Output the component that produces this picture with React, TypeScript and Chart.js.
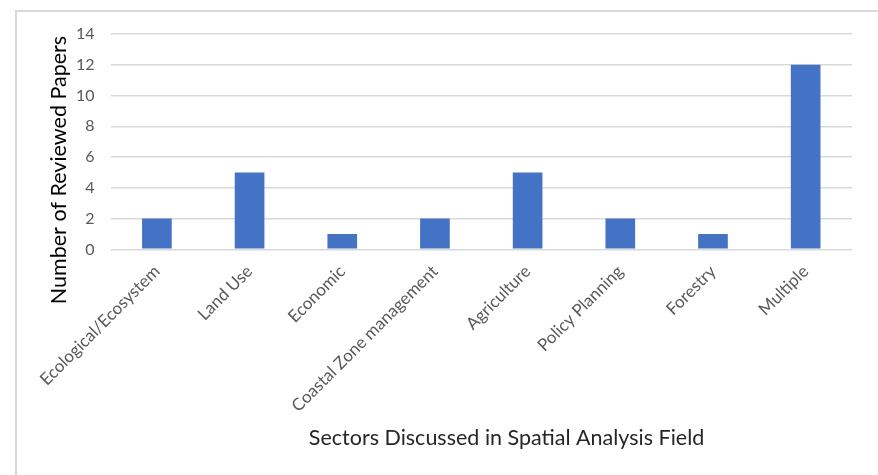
import React, { useEffect, useRef } from "react";
import { Chart, registerables } from "chart.js";

Chart.register(...registerables);

const sectors = [
  "Ecological/Ecosystem",
  "Land Use",
  "Economic",
  "Coastal Zone management",
  "Agriculture",
  "Policy Planning",
  "Forestry",
  "Multiple",
];
const paperCounts = [2, 5, 1, 2, 5, 2, 1, 12];
const yMin = 0;
const yMax = 14;
const yStep = 2;

const xTitle = "Sectors Discussed in Spatial Analysis Field";
const yTitle = "Number of Reviewed Papers";

const FONT = "Lato, 'Open Sans', sans-serif";

// Axis titles are placed like an office chart: the y title sits a bit low, the x title a bit right.
const axisTitles = {
  id: "axisTitles",
  afterDraw(chart: Chart) {
    const { ctx, chartArea } = chart;
    ctx.save();
    ctx.textAlign = "center";
    ctx.textBaseline = "middle";

    ctx.font = `21.5px ${FONT}`;
    ctx.fillStyle = "#262626";
    ctx.fillText(xTitle, chartArea.left + 396, 438);

    ctx.font = `21.5px ${FONT}`;
    ctx.fillStyle = "#000000";
    ctx.translate(59, chartArea.top + 136);
    ctx.rotate(-Math.PI / 2);
    ctx.fillText(yTitle, 0, 0);
    ctx.restore();
  },
};

export default function App() {
  const canvasRef = useRef<HTMLCanvasElement | null>(null);

  useEffect(() => {
    if (!canvasRef.current) return;
    const chart = new Chart(canvasRef.current, {
      type: "bar",
      data: {
        labels: sectors,
        datasets: [
          {
            data: paperCounts,
            backgroundColor: "#4472C4",
            borderWidth: 0,
            barPercentage: 0.64,
            categoryPercentage: 0.5,
          },
        ],
      },
      plugins: [axisTitles],
      options: {
        animation: false,
        responsive: false,
        maintainAspectRatio: false,
        layout: { padding: { left: 60, right: 26, top: 34, bottom: 47 } },
        plugins: {
          legend: { display: false },
          tooltip: { enabled: false },
        },
        scales: {
          x: {
            grid: { display: false, drawTicks: false },
            border: { display: false },
            ticks: {
              color: "#595959",
              font: { family: FONT, size: 17 },
              minRotation: 45,
              maxRotation: 45,
              autoSkip: false,
              padding: 12,
            },
          },
          y: {
            min: yMin,
            max: yMax,
            grid: { color: "#d9d9d9", lineWidth: 1.5, drawTicks: false },
            border: { display: false },
            ticks: {
              stepSize: yStep,
              color: "#595959",
              font: { family: FONT, size: 16 },
              padding: 16,
            },
          },
        },
      },
    });
    return () => chart.destroy();
  }, []);

  return (
    <div style={{ position: "fixed", left: 0, top: 0, width: 878, height: 475, background: "#fff", overflow: "hidden" }}>
      <div
        style={{
          position: "absolute",
          left: 15,
          top: 10,
          width: 900,
          height: 500,
          border: "2px solid #d9d9d9",
          boxSizing: "border-box",
        }}
      />
      <canvas ref={canvasRef} width={878} height={475} style={{ position: "absolute", left: 0, top: 0 }} />
    </div>
  );
}
